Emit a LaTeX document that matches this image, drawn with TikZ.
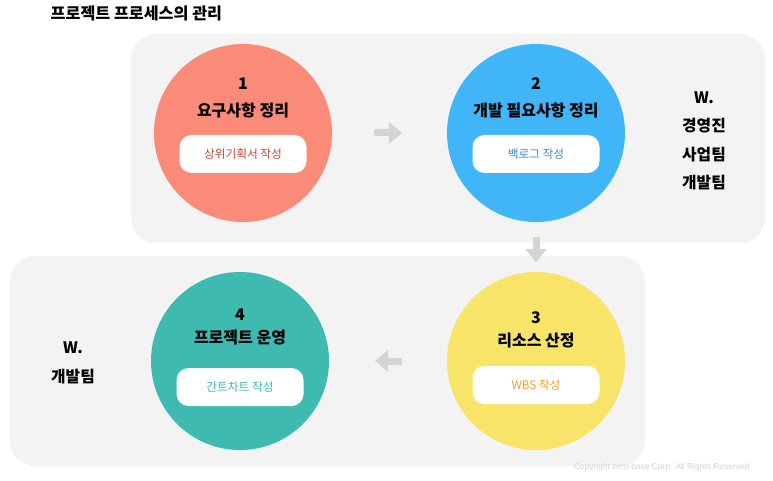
\documentclass[tikz,border=0pt]{standalone}
\usepackage{fontspec}
\setmainfont{Noto Sans CJK KR}
\newfontfamily\copyfont{Liberation Sans}
\usetikzlibrary{arrows.meta}

\definecolor{panelgray}{HTML}{F3F3F3}
\definecolor{arrowgray}{HTML}{D4D4D4}
\definecolor{salmon}{HTML}{FA8B78}
\definecolor{skyblue}{HTML}{40B6F8}
\definecolor{lemon}{HTML}{F7E468}
\definecolor{teal}{HTML}{3FBAB1}
\definecolor{redtext}{HTML}{C9463A}
\definecolor{bluetext}{HTML}{3A8FD0}
\definecolor{orangetext}{HTML}{F5A033}
\definecolor{tealtext}{HTML}{3DBAB0}

\tikzset{every picture/.style={line width=0.75pt}}

\begin{document}
\begin{tikzpicture}[
    x=1pt, y=-1pt,
    stage/.style={circle, minimum size=178pt, inner sep=0pt, outer sep=0pt},
    num/.style={font=\fontsize{16}{19}\selectfont\bfseries},
    pill/.style={fill=white, rounded corners=12pt, minimum width=127pt, minimum height=38pt, font=\fontsize{11.7}{14}\selectfont},
    team/.style={font=\fontsize{15.8}{19}\selectfont\bfseries},
    flow/.style={draw=arrowgray, line width=7pt, -{Triangle[length=13pt, width=21pt]}},
]
    \useasboundingbox (0,0) rectangle (773,481);

    % panels
    \fill[panelgray, rounded corners=25pt] (131,34) rectangle (765,243);
    \fill[panelgray, rounded corners=25pt] (10,256) rectangle (645,466);

    \node[anchor=west, font=\fontsize{16.2}{19}\selectfont\bfseries] (title) at (47,13) {프로젝트 프로세스의 관리};

    % stages
    \node[stage, fill=salmon] (req) at (243,133) {};
    \node[stage, fill=skyblue] (dev) at (536,133) {};
    \node[stage, fill=lemon] (res) at (536,361) {};
    \node[stage, fill=teal] (ops) at (240,361) {};

    \node[num] (req1) at (243,84) {1};
    \node[num] (req2) at (243,110) {요구사항 정리};
    \node[pill, text=redtext] (reqdoc) at (243,154) {상위기획서 작성};

    \node[num] (dev1) at (536,84) {2};
    \node[num] (dev2) at (536,110) {개발 필요사항 정리};
    \node[pill, text=bluetext] (devdoc) at (536,154) {백로그 작성};

    \node[num] (res1) at (536,318) {3};
    \node[num] (res2) at (536,341) {리소스 산정};
    \node[pill, text=orangetext] (resdoc) at (536,385) {WBS 작성};

    \node[num] (ops1) at (240,315) {4};
    \node[num] (ops2) at (240,338) {프로젝트 운영};
    \node[pill, text=tealtext] (opsdoc) at (240,387) {간트차트 작성};

    % teams
    \node[team] (w1) at (704,98) {W.};
    \node[team] (mgmt) at (704,126) {경영진};
    \node[team] (biz) at (704,155) {사업팀};
    \node[team] (devteam) at (704,183) {개발팀};

    \node[team] (w2) at (73,348) {W.};
    \node[team] (devteam2) at (73,377) {개발팀};

    % flow
    \draw[flow, shorten <=42pt, shorten >=45pt] (req) -- (dev);
    \draw[flow, shorten <=15pt, shorten >=10pt] (dev) -- (res);
    \draw[flow, shorten <=45pt, shorten >=46pt] (res) -- (ops);

    \node[anchor=east, text=arrowgray, font=\copyfont\fontsize{8.4}{10}\selectfont] (copy) at (753,467) {Copyright zero-base Corp. All Rights Reserved};
\end{tikzpicture}
\end{document}
